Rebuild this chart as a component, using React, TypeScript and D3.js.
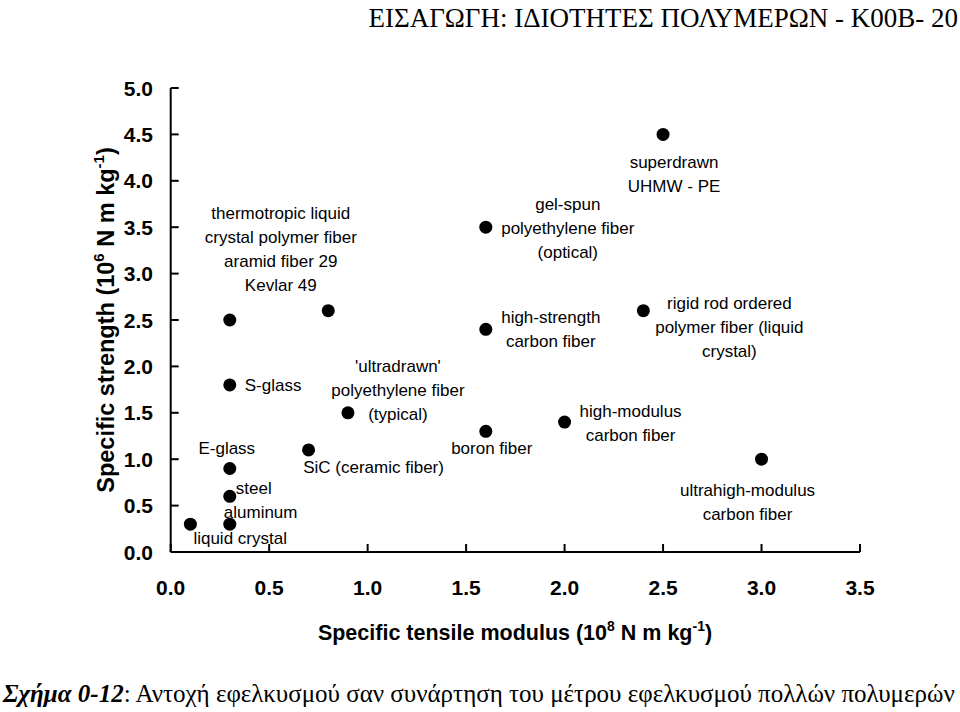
import React from "react";
import * as d3 from "d3";

const W = 960;
const H = 712;

// data
const modulus = [0.1, 0.3, 0.3, 0.3, 0.3, 0.3, 0.8, 0.9, 0.7, 1.6, 1.6, 1.6, 2.5, 2.4, 2.0, 3.0];
const strength = [0.3, 0.3, 0.6, 0.9, 1.8, 2.5, 2.6, 1.5, 1.1, 1.3, 2.4, 3.5, 4.5, 2.6, 1.4, 1.0];
const names = [
  ["liquid crystal"],
  ["aluminum"],
  ["steel"],
  ["E-glass"],
  ["S-glass"],
  ["thermotropic liquid", "crystal polymer fiber", "aramid fiber 29", "Kevlar 49"],
  [],
  ["'ultradrawn'", "polyethylene fiber", "(typical)"],
  ["SiC (ceramic fiber)"],
  ["boron fiber"],
  ["high-strength", "carbon fiber"],
  ["gel-spun", "polyethylene fiber", "(optical)"],
  ["superdrawn", "UHMW - PE"],
  ["rigid rod ordered", "polymer fiber (liquid", "crystal)"],
  ["high-modulus", "carbon fiber"],
  ["ultrahigh-modulus", "carbon fiber"],
];
const xTicks = [0, 0.5, 1, 1.5, 2, 2.5, 3, 3.5];
const yTicks = [0, 0.5, 1, 1.5, 2, 2.5, 3, 3.5, 4, 4.5, 5];
const headerText = "ΕΙΣΑΓΩΓΗ: ΙΔΙΟΤΗΤΕΣ ΠΟΛΥΜΕΡΩΝ - Κ00Β- 20";
const captionLead = "Σχήμα 0-12";
const captionRest = ": Αντοχή εφελκυσμού σαν συνάρτηση του μέτρου εφελκυσμού πολλών πολυμερών";

// label layout: offset (px) of first line baseline from the point, anchor
const labelLayout: { dx: number; dy: number; anchor: string }[] = [
  { dx: 3, dy: 20, anchor: "start" },
  { dx: -6, dy: -6, anchor: "start" },
  { dx: 6, dy: -2, anchor: "start" },
  { dx: -3, dy: -14, anchor: "middle" },
  { dx: 15, dy: 6, anchor: "start" },
  { dx: 51, dy: -101, anchor: "middle" },
  { dx: 0, dy: 0, anchor: "middle" },
  { dx: 50, dy: -41, anchor: "middle" },
  { dx: 65, dy: 23, anchor: "middle" },
  { dx: 6, dy: 23, anchor: "middle" },
  { dx: 65, dy: -6, anchor: "middle" },
  { dx: 82, dy: -17, anchor: "middle" },
  { dx: 11, dy: 34, anchor: "middle" },
  { dx: 86, dy: -2, anchor: "middle" },
  { dx: 66, dy: -5, anchor: "middle" },
  { dx: -14, dy: 37, anchor: "middle" },
];

export default function App() {
  React.useEffect(() => {
    document.body.style.margin = "0";
  }, []);

  const x = d3.scaleLinear().domain([0, 3.5]).range([170.7, 860]);
  const y = d3.scaleLinear().domain([0, 5]).range([552, 88]);
  const sans = "'Liberation Sans', Arial, sans-serif";
  const serif = "'Liberation Serif', 'Times New Roman', serif";
  const tickFont = 21;
  const labelFont = 17;
  const lineH = 24;

  return (
    <svg
      width={W}
      height={H}
      style={{ display: "block", position: "absolute", left: 0, top: 0, background: "#fff" }}
    >
      <rect width={W} height={H} fill="#fff" />
      {/* header */}
      <text x={958} y={27} fontFamily={serif} fontSize={27} textAnchor="end" fill="#000">
        {headerText}
      </text>

      {/* axes */}
      <line x1={x(0)} x2={x(0)} y1={y(5)} y2={y(0)} stroke="#000" strokeWidth={2} />
      <line x1={x(0)} x2={x(3.5)} y1={y(0)} y2={y(0)} stroke="#000" strokeWidth={2} />
      {yTicks.map((t) => (
        <g key={"y" + t}>
          <line x1={x(0)} x2={x(0) + 8} y1={y(t)} y2={y(t)} stroke="#000" strokeWidth={2} />
          <text
            x={153}
            y={y(t) + 7.5}
            textAnchor="end"
            fontFamily={sans}
            fontWeight="bold"
            fontSize={tickFont}
          >
            {d3.format(".1f")(t)}
          </text>
        </g>
      ))}
      {xTicks.map((t) => (
        <g key={"x" + t}>
          <line x1={x(t)} x2={x(t)} y1={y(0)} y2={y(0) - 8} stroke="#000" strokeWidth={2} />
          <text
            x={x(t)}
            y={595}
            textAnchor="middle"
            fontFamily={sans}
            fontWeight="bold"
            fontSize={tickFont}
          >
            {d3.format(".1f")(t)}
          </text>
        </g>
      ))}

      {/* axis titles */}
      <text x={515} y={640} textAnchor="middle" fontFamily={sans} fontWeight="bold" fontSize={21.5}>
        Specific tensile modulus (10
        <tspan fontSize={14} dy={-9}>8</tspan>
        <tspan dy={9}> N m kg</tspan>
        <tspan fontSize={14} dy={-9}>-1</tspan>
        <tspan dy={9}>)</tspan>
      </text>
      <text
        transform={`translate(114,320) rotate(-90)`}
        textAnchor="middle"
        fontFamily={sans}
        fontWeight="bold"
        fontSize={23.5}
      >
        Specific strength (10
        <tspan fontSize={15} dy={-10}>6</tspan>
        <tspan dy={10}> N m kg</tspan>
        <tspan fontSize={15} dy={-10}>-1</tspan>
        <tspan dy={10}>)</tspan>
      </text>

      {/* points */}
      {modulus.map((m, i) => (
        <circle key={"p" + i} cx={x(m)} cy={y(strength[i])} r={6.5} fill="#000" />
      ))}

      {/* labels */}
      {names.map((lines, i) => {
        const L = labelLayout[i];
        return (
          <text
            key={"l" + i}
            x={x(modulus[i]) + L.dx}
            y={y(strength[i]) + L.dy}
            textAnchor={L.anchor}
            fontFamily={sans}
            fontSize={labelFont}
            fill="#000"
          >
            {lines.map((ln, j) => (
              <tspan key={j} x={x(modulus[i]) + L.dx} dy={j === 0 ? 0 : lineH}>
                {ln}
              </tspan>
            ))}
          </text>
        );
      })}

      {/* caption */}
      <text x={3} y={702} fontFamily={serif} fontSize={25} fill="#000">
        <tspan fontStyle="italic" fontWeight="bold">{captionLead}</tspan>
        <tspan>{captionRest}</tspan>
      </text>
    </svg>
  );
}
